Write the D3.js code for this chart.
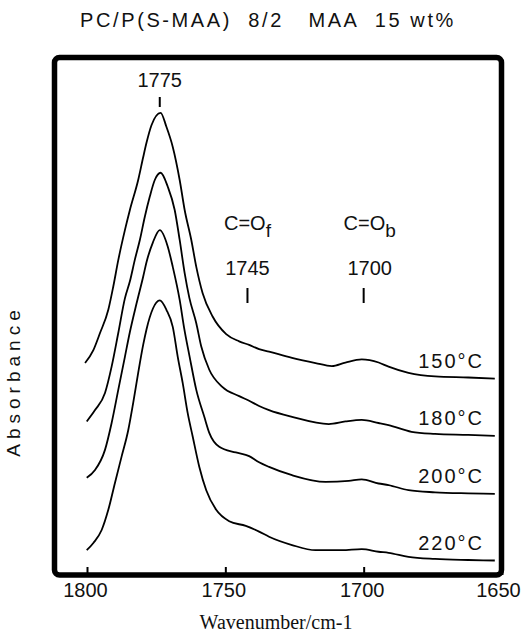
<!DOCTYPE html>
<html>
<head>
<meta charset="utf-8">
<script src="https://cdn.jsdelivr.net/npm/d3@7"></script>
<style>
  body { margin: 0; background: #fff; }
  text { fill: #111; }
</style>
</head>
<body>
<div id="canvas"></div>
<script>
// wavenumber (cm-1) and absorbance (arbitrary, offset traces)
const temps = ["150°C", "180°C", "200°C", "220°C"];

const wn150 = [1800.7, 1797.7, 1795.3, 1792.3, 1790.5, 1788.7, 1786.3, 1784.5, 1781.5, 1779.7, 1778.5, 1776.7, 1773.4, 1771.3, 1769.0, 1766.5, 1764.7, 1762.3, 1760.5, 1758.2, 1754.6, 1749.7, 1745.0, 1741.4, 1737.8, 1734.2, 1725.9, 1717.4, 1711.5, 1706.6, 1700.7, 1694.6, 1691.0, 1683.8, 1674.2, 1662.2, 1652.6];
const abs150 = [41.0, 43.5, 46.8, 51.3, 55.8, 60.9, 66.7, 70.6, 76.4, 80.8, 83.6, 87.0, 89.4, 86.7, 82.8, 76.4, 70.6, 64.8, 59.6, 54.5, 50.0, 46.6, 45.2, 44.5, 43.7, 43.2, 42.0, 41.0, 40.4, 41.1, 41.7, 41.1, 40.3, 39.1, 38.4, 38.2, 38.0];

const wn180 = [1800.1, 1797.1, 1793.5, 1791.1, 1788.7, 1786.3, 1784.5, 1782.7, 1780.9, 1779.1, 1777.3, 1775.5, 1773.4, 1770.8, 1768.3, 1766.5, 1764.7, 1763.0, 1760.5, 1758.7, 1755.8, 1751.1, 1745.0, 1741.4, 1737.8, 1734.2, 1725.9, 1712.6, 1706.6, 1700.7, 1694.6, 1691.0, 1682.7, 1674.2, 1662.2, 1652.6];
const abs180 = [29.7, 31.9, 35.2, 40.3, 46.8, 53.5, 56.8, 61.0, 64.8, 69.3, 73.2, 76.4, 77.8, 75.1, 70.6, 64.8, 58.4, 53.6, 48.7, 44.2, 39.7, 36.4, 34.6, 33.7, 32.7, 31.9, 30.6, 29.2, 29.7, 30.0, 29.4, 29.0, 27.7, 27.3, 27.1, 26.9];

const wn200 = [1800.1, 1797.1, 1793.5, 1791.1, 1788.7, 1786.3, 1784.5, 1782.1, 1779.7, 1778.5, 1776.2, 1773.7, 1770.8, 1769.0, 1766.5, 1764.9, 1762.9, 1760.5, 1757.6, 1755.8, 1752.2, 1746.2, 1741.4, 1737.8, 1734.2, 1725.9, 1713.8, 1705.4, 1700.7, 1694.6, 1691.0, 1683.8, 1674.2, 1662.2, 1652.6];
const abs200 = [18.8, 20.3, 24.2, 29.4, 35.8, 42.2, 47.0, 52.5, 57.7, 60.5, 64.3, 66.7, 63.5, 59.6, 53.2, 47.8, 42.2, 35.8, 30.6, 27.5, 24.8, 23.7, 23.0, 21.8, 20.9, 19.3, 18.0, 18.2, 18.5, 17.7, 17.4, 16.4, 16.0, 15.8, 15.7];

const wn220 = [1800.1, 1797.7, 1794.7, 1792.3, 1789.9, 1787.5, 1785.1, 1783.3, 1781.5, 1779.7, 1778.5, 1776.2, 1773.7, 1771.3, 1769.0, 1767.2, 1765.4, 1763.6, 1761.8, 1759.4, 1756.9, 1753.3, 1748.6, 1742.6, 1737.8, 1734.2, 1725.9, 1717.4, 1707.9, 1700.7, 1694.6, 1691.0, 1683.8, 1674.2, 1662.2, 1652.6];
const abs220 = [4.8, 6.2, 8.7, 12.6, 17.8, 22.9, 28.0, 33.3, 39.1, 44.5, 47.5, 51.5, 53.1, 51.3, 48.0, 42.2, 37.1, 31.3, 26.8, 20.9, 16.4, 12.6, 10.4, 9.5, 8.4, 7.4, 5.8, 4.8, 4.8, 5.0, 4.5, 4.3, 3.5, 3.1, 2.9, 2.8];

const xTicks = [1800, 1750, 1700, 1650];
// band markers: label text and where the marker sits on the wavenumber axis
const markLabels = ["1775", "1745", "1700"];
const markPos = [1773.7, 1742.0, 1700.0];
const bandNames = ["f", "b"]; // C=O free / bonded

const title = "PC/P(S-MAA)  8/2   MAA  15 wt%";
const xTitle = "Wavenumber/cm-1";
const yTitle = "Absorbance";

const series = [
  { name: temps[0], wn: wn150, a: abs150 },
  { name: temps[1], wn: wn180, a: abs180 },
  { name: temps[2], wn: wn200, a: abs200 },
  { name: temps[3], wn: wn220, a: abs220 }
];

const W = 523, H = 635;
const frame = { left: 54.5, right: 501.5, top: 57.5, bottom: 575 };
const sans = "'Liberation Sans', Arial, sans-serif";

const svg = d3.select("#canvas").append("svg")
  .attr("width", W)
  .attr("height", H)
  .attr("viewBox", "0 0 " + W + " " + H);

const xScale = d3.scaleLinear().domain([1800, 1650]).range([87, 502]);
const yScale = d3.scaleLinear().domain([0, 100]).range([frame.bottom, frame.bottom - 517]);

// title
svg.append("text")
  .attr("x", 268).attr("y", 27)
  .attr("text-anchor", "middle")
  .attr("font-family", sans)
  .attr("font-size", "20px")
  .attr("letter-spacing", "2.6px")
  .style("white-space", "pre")
  .text(title);

// frame
svg.append("rect")
  .attr("x", frame.left).attr("y", frame.top)
  .attr("width", frame.right - frame.left)
  .attr("height", frame.bottom - frame.top)
  .attr("rx", 5).attr("ry", 5)
  .attr("fill", "none")
  .attr("stroke", "#000")
  .attr("stroke-width", 5.5);

// x axis: inward ticks, labels below
const xAxis = svg.append("g")
  .attr("transform", "translate(0," + frame.bottom + ")")
  .call(d3.axisBottom(xScale).tickValues(xTicks).tickSize(-8).tickPadding(8).tickFormat(d3.format("d")));
xAxis.select(".domain").remove();
xAxis.selectAll("line").attr("stroke", "#000").attr("stroke-width", 2);
xAxis.selectAll("text")
  .attr("font-family", sans)
  .attr("font-size", "20px")
  .attr("fill", "#111")
  .attr("dx", d => d === 1650 ? -4 : -2);

svg.append("text")
  .attr("x", 276).attr("y", 629)
  .attr("text-anchor", "middle")
  .attr("font-family", "'Liberation Serif', 'Times New Roman', serif")
  .attr("font-size", "20px")
  .text(xTitle);

svg.append("text")
  .attr("transform", "translate(20,381) rotate(-90)")
  .attr("text-anchor", "middle")
  .attr("font-family", sans)
  .attr("font-size", "19px")
  .attr("letter-spacing", "5px")
  .text(yTitle);

// spectra
const line = d3.line()
  .x(d => xScale(d[0]))
  .y(d => yScale(d[1]))
  .curve(d3.curveMonotoneX);

series.forEach(s => {
  const pts = s.wn.map((w, i) => [w, s.a[i]]);
  svg.append("path")
    .attr("d", line(pts))
    .attr("fill", "none")
    .attr("stroke", "#000")
    .attr("stroke-width", 1.8)
    .attr("stroke-linejoin", "round");

  const last = pts[pts.length - 1];
  svg.append("text")
    .attr("x", 484)
    .attr("y", yScale(last[1]) - 11)
    .attr("text-anchor", "end")
    .attr("font-family", sans)
    .attr("font-size", "20px")
    .attr("letter-spacing", "2px")
    .text(s.name);
});

// band markers
const markY = [[97, 107, 87], [288, 303, 275], [288, 303, 275]];
markPos.forEach((p, i) => {
  const x = xScale(p);
  svg.append("line")
    .attr("x1", x).attr("x2", x)
    .attr("y1", markY[i][0]).attr("y2", markY[i][1])
    .attr("stroke", "#000").attr("stroke-width", 2);
  svg.append("text")
    .attr("x", x + (i === 2 ? 6 : 0)).attr("y", markY[i][2])
    .attr("text-anchor", "middle")
    .attr("font-family", sans)
    .attr("font-size", "20px")
    .text(markLabels[i]);
});

// C=O labels with subscripts
[1, 2].forEach((k, j) => {
  const x = xScale(markPos[k]) + (k === 2 ? 6 : 0);
  const t = svg.append("text")
    .attr("x", x).attr("y", 230)
    .attr("text-anchor", "middle")
    .attr("font-family", sans)
    .attr("font-size", "20px");
  t.append("tspan").text("C=O");
  t.append("tspan").attr("dy", 7).attr("font-size", "19px").text(bandNames[j]);
});
</script>
</body>
</html>
